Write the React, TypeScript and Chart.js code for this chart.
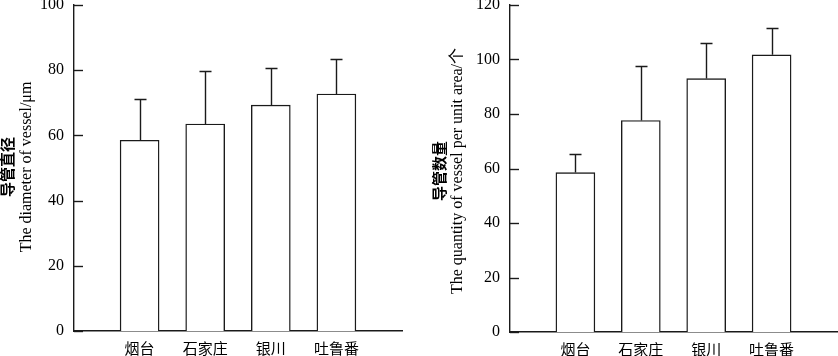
import React, { useEffect, useRef } from 'react';
import { Chart, registerables } from 'chart.js';
Chart.register(...registerables);

const categories = ['烟台', '石家庄', '银川', '吐鲁番'];
const diameterMean = [58.5, 63.5, 69.3, 72.7];
const diameterSD = [12.7, 16.2, 11.3, 10.7];
const quantityMean = [58.5, 77.6, 93.0, 101.7];
const quantitySD = [6.9, 20.0, 13.1, 10.0];
const diameterTicks = { min: 0, max: 100, step: 20 };
const quantityTicks = { min: 0, max: 120, step: 20 };
const diameterTitle = ['导管直径', 'The diameter of vessel/μm'];
const quantityTitle = ['导管数量', 'The quantity of vessel per unit area/个'];

const INK = '#1a1a1a';
const SERIF = '"Liberation Serif", "Times New Roman", "Noto Sans CJK SC", serif';
const CJK = '"Noto Sans CJK SC", sans-serif';

const decorPlugin = {
  id: 'decor',
  afterDatasetsDraw(chart: any, _args: any, opts: any) {
    const { ctx, chartArea, scales } = chart;
    const xs = scales.x;
    const ys = scales.y;
    ctx.save();
    ctx.strokeStyle = INK;
    ctx.lineWidth = 1.4;
    ys.ticks.forEach((t: any) => {
      const py = Math.round(ys.getPixelForValue(t.value)) + 0.5;
      ctx.beginPath();
      ctx.moveTo(chartArea.left, py);
      ctx.lineTo(chartArea.left + 9, py);
      ctx.stroke();
    });
    const ds = chart.data.datasets[0];
    ds.data.forEach((pt: any, i: number) => {
      const err = opts.errors[i];
      const px = Math.round(xs.getPixelForValue(pt.x)) + 0.5;
      const y0 = ys.getPixelForValue(pt.y);
      const y1 = Math.round(ys.getPixelForValue(pt.y + err)) + 0.5;
      ctx.beginPath();
      ctx.moveTo(px, y0);
      ctx.lineTo(px, y1);
      ctx.moveTo(px - 6, y1);
      ctx.lineTo(px + 6, y1);
      ctx.stroke();
    });
    ctx.restore();
  },
  afterDraw(chart: any, _args: any, opts: any) {
    const { ctx } = chart;
    ctx.save();
    ctx.fillStyle = '#000';
    ctx.textAlign = 'center';
    ctx.textBaseline = 'middle';
    ctx.save();
    ctx.translate(opts.cnX, opts.titleY);
    ctx.rotate(-Math.PI / 2);
    ctx.font = 'bold 15px ' + CJK;
    ctx.fillText(opts.title[0], 0, 0);
    ctx.restore();
    ctx.save();
    ctx.translate(opts.enX, opts.titleY);
    ctx.rotate(-Math.PI / 2);
    ctx.font = '16px ' + SERIF;
    ctx.fillText(opts.title[1], 0, 0);
    ctx.restore();
    ctx.restore();
  },
};

type PanelProps = {
  means: number[];
  errors: number[];
  ticks: { min: number; max: number; step: number };
  title: string[];
  yWidth: number;
  xHeight: number;
  padRight: number;
  cnX: number;
  enX: number;
  titleY: number;
  left: number;
};

function Panel(p: PanelProps) {
  const ref = useRef<HTMLCanvasElement | null>(null);
  useEffect(() => {
    if (!ref.current) return;
    const chart = new Chart(ref.current, {
      type: 'bar',
      data: {
        datasets: [
          {
            data: p.means.map((v, i) => ({ x: i + 1, y: v })),
            backgroundColor: '#ffffff',
            borderColor: INK,
            borderWidth: 1.4,
            barThickness: 39,
          } as any,
        ],
      },
      plugins: [decorPlugin as any],
      options: {
        responsive: false,
        animation: false,
        layout: { padding: { top: 5, right: p.padRight, left: 0, bottom: 0 } },
        plugins: {
          legend: { display: false },
          tooltip: { enabled: false },
          decor: { errors: p.errors, title: p.title, cnX: p.cnX, enX: p.enX, titleY: p.titleY },
        } as any,
        scales: {
          x: {
            type: 'linear',
            min: 0,
            max: categories.length + 1,
            offset: false,
            grid: { display: false, drawTicks: false },
            border: { display: true, color: INK, width: 1.4 },
            ticks: {
              stepSize: 1,
              autoSkip: false,
              maxRotation: 0,
              padding: 8,
              color: '#000',
              font: { family: CJK, size: 15 },
              callback: (v: any) => categories[Number(v) - 1] ?? '',
            },
            afterFit: (s: any) => {
              s.height = p.xHeight;
              s.paddingLeft = 0;
              s.paddingRight = 0;
            },
          },
          y: {
            min: p.ticks.min,
            max: p.ticks.max,
            grid: { display: false, drawTicks: false },
            border: { display: true, color: INK, width: 1.4 },
            ticks: {
              stepSize: p.ticks.step,
              padding: 10,
              color: '#000',
              font: { family: SERIF, size: 16 },
            },
            afterFit: (s: any) => {
              s.width = p.yWidth;
              s.paddingTop = 0;
              s.paddingBottom = 0;
            },
          },
        } as any,
      },
    });
    return () => chart.destroy();
  }, []);
  return (
    <canvas
      ref={ref}
      width={419}
      height={356}
      style={{ position: 'absolute', left: p.left, top: 0, width: 419, height: 356 }}
    />
  );
}

export default function App() {
  return (
    <div style={{ position: 'fixed', left: 0, top: 0, width: 838, height: 356, background: '#fff' }}>
      <Panel
        means={diameterMean}
        errors={diameterSD}
        ticks={diameterTicks}
        title={diameterTitle}
        yWidth={74}
        xHeight={25}
        padRight={17}
        cnX={7}
        enX={27}
        titleY={167}
        left={0}
      />
      <Panel
        means={quantityMean}
        errors={quantitySD}
        ticks={quantityTicks}
        title={quantityTitle}
        yWidth={91}
        xHeight={24}
        padRight={1}
        cnX={20}
        enX={38.5}
        titleY={171}
        left={419}
      />
    </div>
  );
}
